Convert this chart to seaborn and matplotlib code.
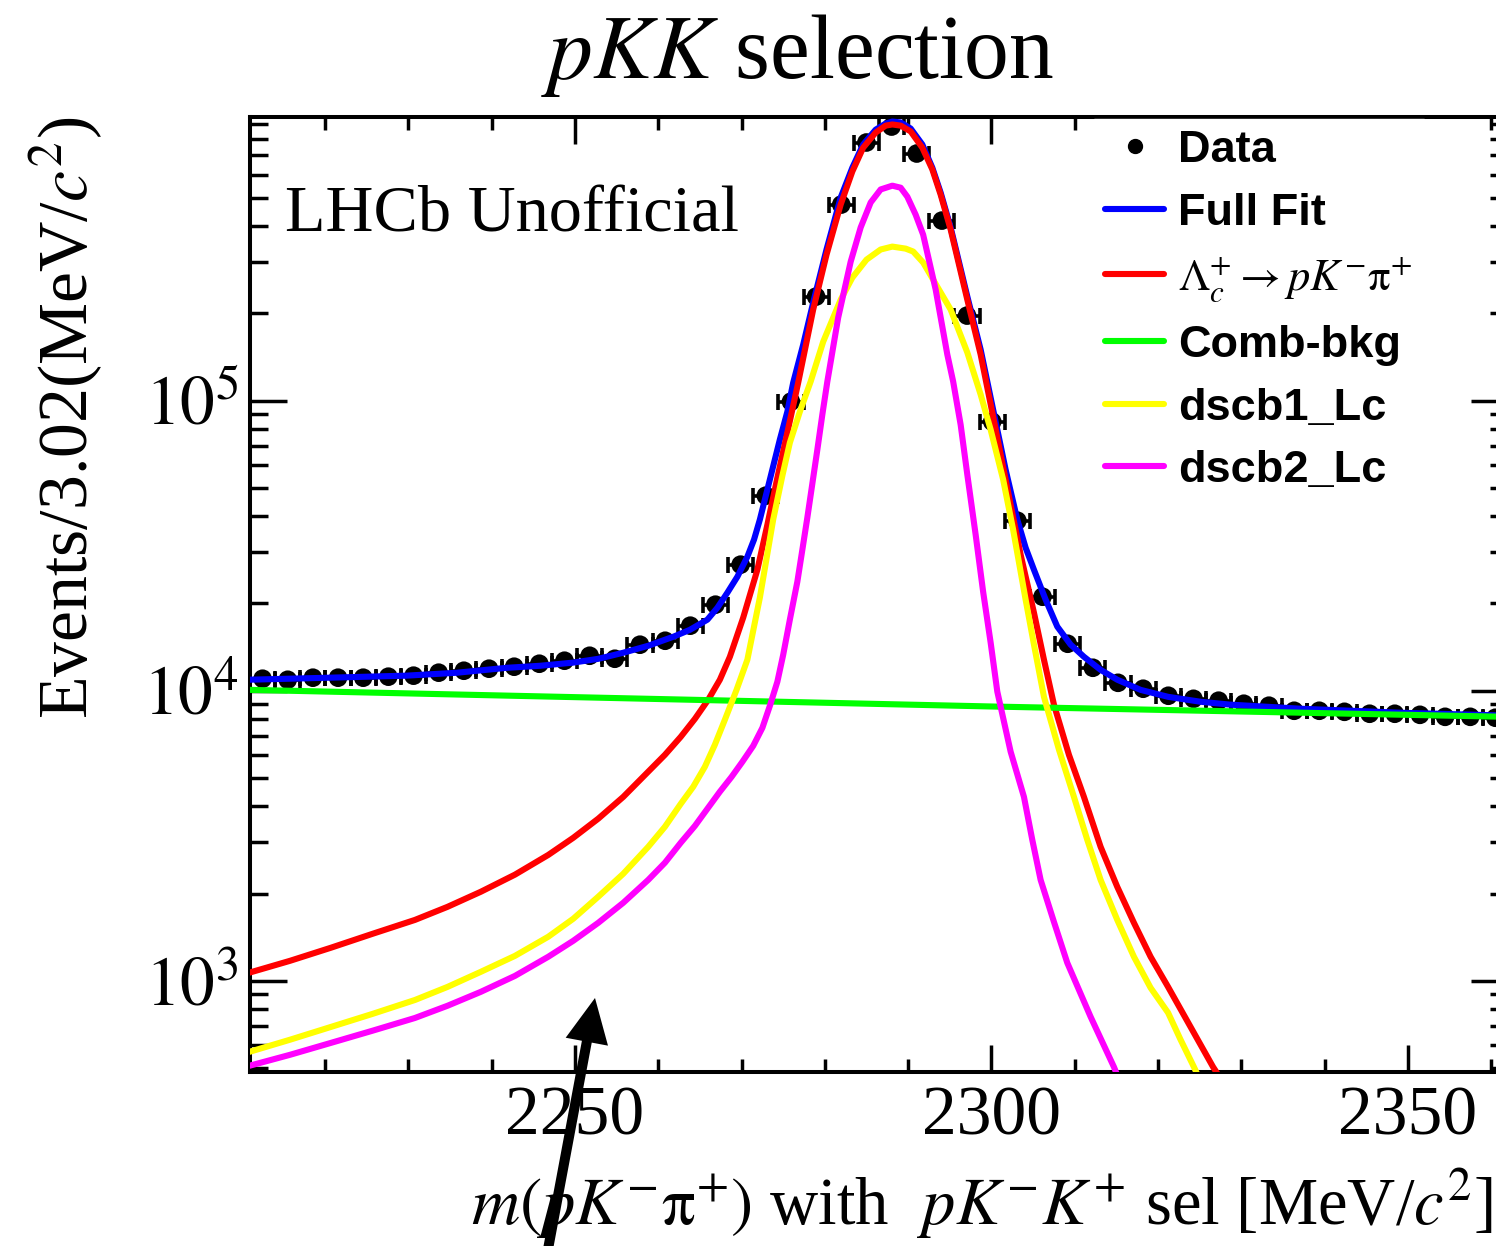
import numpy as np
import pandas as pd
import matplotlib
matplotlib.use("Agg")
import matplotlib.pyplot as plt
from matplotlib.lines import Line2D
from matplotlib.ticker import MultipleLocator, LogLocator, NullFormatter
from matplotlib.font_manager import FontProperties
import seaborn as sns

# ---------------- data ----------------
bin_width = 3.02
bin_start = 2211.0
data_counts = [11000, 10910, 11090, 11090, 11090, 11180, 11270, 11540, 11720, 11910,
               12100, 12390, 12690, 13200, 12890, 14410, 14870, 16760, 19800, 27200,
               47030, 99200, 228400, 474100, 775900, 880600, 710900, 417500, 196400, 84650,
               38560, 21090, 14520, 12000, 10650, 10160, 9610, 9380, 9240, 9020,
               8880, 8530, 8530, 8460, 8330, 8330, 8260, 8130, 8130, 8070]

# fit curves: mass [MeV] and log10(events per bin)
full_m = [2210.9, 2220.6, 2229.8, 2235.8, 2241.8, 2245.8, 2249.8, 2252.8, 2255.8, 2258.8,
          2261.8, 2263.8, 2265.9, 2267.1, 2268.3, 2269.5, 2270.7, 2271.5, 2272.2, 2272.8,
          2273.4, 2274.0, 2274.6, 2275.5, 2276.2, 2277.4, 2278.6, 2280.2, 2281.9, 2283.3,
          2284.6, 2286.1, 2287.3, 2288.1, 2289.1, 2290.3, 2291.7, 2292.9, 2293.9, 2295.1,
          2297.1, 2298.7, 2300.2, 2301.7, 2303.1, 2304.1, 2305.1, 2306.5, 2307.9, 2309.5,
          2311.1, 2313.1, 2315.1, 2317.9, 2321.2, 2325.1, 2328.7, 2337.1, 2349.2, 2362.1]
full_log10 = [4.038, 4.045, 4.052, 4.062, 4.079, 4.086, 4.097, 4.110, 4.131, 4.155,
              4.186, 4.210, 4.245, 4.286, 4.338, 4.393, 4.462, 4.521, 4.590, 4.659,
              4.728, 4.797, 4.866, 4.962, 5.062, 5.193, 5.338, 5.521, 5.700, 5.803,
              5.883, 5.934, 5.955, 5.962, 5.959, 5.938, 5.883, 5.803, 5.717, 5.597,
              5.359, 5.176, 4.969, 4.762, 4.590, 4.493, 4.417, 4.314, 4.221, 4.159,
              4.117, 4.072, 4.038, 4.003, 3.979, 3.962, 3.952, 3.938, 3.924, 3.914]

sig_m = [2210.9, 2215.8, 2220.7, 2225.7, 2230.8, 2234.7, 2238.7, 2242.8, 2246.8, 2249.8,
         2252.8, 2255.8, 2258.8, 2260.8, 2262.7, 2264.4, 2266.0, 2267.4, 2268.6, 2270.2,
         2271.9, 2273.1, 2274.3, 2275.5, 2276.8, 2278.6, 2280.2, 2281.9, 2283.3, 2284.6,
         2286.1, 2287.3, 2288.1, 2289.1, 2290.3, 2291.7, 2292.9, 2293.9, 2295.1, 2297.1,
         2298.7, 2300.2, 2302.3, 2303.5, 2305.1, 2306.3, 2307.5, 2309.3, 2311.1, 2313.1,
         2315.1, 2317.1, 2319.1, 2321.2, 2323.9, 2326.6, 2327.8]
sig_log10 = [3.028, 3.069, 3.114, 3.162, 3.210, 3.255, 3.307, 3.366, 3.434, 3.493,
             3.559, 3.634, 3.721, 3.779, 3.841, 3.903, 3.969, 4.038, 4.117, 4.252,
             4.417, 4.572, 4.734, 4.890, 5.062, 5.314, 5.503, 5.676, 5.790, 5.872,
             5.924, 5.948, 5.952, 5.948, 5.928, 5.872, 5.797, 5.710, 5.590, 5.348,
             5.159, 4.945, 4.641, 4.469, 4.269, 4.107, 3.952, 3.779, 3.634, 3.462,
             3.324, 3.200, 3.083, 2.979, 2.841, 2.703, 2.650]

bkg_m = [2211.0, 2301.1, 2362.0]
bkg_log10 = [4.003, 3.945, 3.910]

dscb1_m = [2210.9, 2215.8, 2220.7, 2225.7, 2230.8, 2234.7, 2238.7, 2242.8, 2246.8, 2249.8,
           2252.8, 2255.8, 2258.8, 2260.8, 2262.7, 2264.2, 2265.6, 2266.8, 2268.0, 2269.4,
           2270.7, 2272.2, 2273.8, 2274.9, 2275.8, 2277.0, 2278.3, 2279.8, 2281.9, 2283.3,
           2285.0, 2286.7, 2288.1, 2289.7, 2290.6, 2291.8, 2293.0, 2295.1, 2297.1, 2298.7,
           2299.9, 2301.4, 2302.6, 2304.1, 2305.1, 2306.3, 2308.1, 2309.9, 2311.5, 2313.1,
           2315.1, 2317.1, 2319.1, 2321.2, 2322.7, 2324.3, 2325.0]
dscb1_log10 = [2.755, 2.797, 2.841, 2.886, 2.934, 2.979, 3.031, 3.086, 3.152, 3.214,
               3.290, 3.369, 3.462, 3.531, 3.610, 3.669, 3.738, 3.814, 3.900, 4.003,
               4.107, 4.321, 4.590, 4.741, 4.855, 4.962, 5.066, 5.203, 5.348, 5.424,
               5.486, 5.521, 5.531, 5.524, 5.514, 5.476, 5.417, 5.314, 5.166, 5.021,
               4.900, 4.728, 4.555, 4.314, 4.159, 3.979, 3.797, 3.634, 3.486, 3.348,
               3.210, 3.083, 2.976, 2.890, 2.797, 2.703, 2.660]

dscb2_m = [2210.9, 2215.8, 2220.7, 2225.7, 2230.8, 2234.7, 2238.7, 2242.8, 2246.8, 2249.8,
           2252.8, 2255.8, 2258.8, 2260.8, 2262.7, 2264.4, 2266.0, 2267.4, 2268.8, 2270.1,
           2271.4, 2272.5, 2273.4, 2274.3, 2275.0, 2275.8, 2276.7, 2277.3, 2277.9, 2278.5,
           2279.1, 2279.7, 2280.3, 2281.6, 2283.1, 2284.3, 2285.5, 2286.7, 2288.1, 2289.1,
           2289.9, 2290.9, 2291.8, 2293.3, 2294.7, 2295.4, 2296.3, 2297.1, 2298.1, 2299.0,
           2299.9, 2300.7, 2302.3, 2303.9, 2304.9, 2305.9, 2307.5, 2309.1, 2311.9, 2314.7,
           2315.3]
dscb2_log10 = [2.707, 2.745, 2.786, 2.828, 2.872, 2.914, 2.962, 3.017, 3.083, 3.138,
               3.200, 3.269, 3.348, 3.407, 3.476, 3.534, 3.597, 3.652, 3.703, 3.755,
               3.810, 3.872, 3.948, 4.031, 4.124, 4.245, 4.376, 4.486, 4.597, 4.714,
               4.831, 4.952, 5.066, 5.286, 5.479, 5.597, 5.683, 5.728, 5.741, 5.734,
               5.703, 5.641, 5.572, 5.383, 5.159, 5.066, 4.917, 4.745, 4.538, 4.341,
               4.166, 3.997, 3.790, 3.634, 3.486, 3.348, 3.203, 3.062, 2.876, 2.703,
               2.660]

x_major = [2250, 2300, 2350]
y_major = [1e3, 1e4, 1e5]
y_major_labels = [r"$10^{3}$", r"$10^{4}$", r"$10^{5}$"]
legend_labels = ["Data", "Full Fit", r"$\Lambda_{c}^{+}\rightarrow pK^{-}\mathrm{\pi}^{+}$",
                 "Comb-bkg", "dscb1_Lc", "dscb2_Lc"]

# ---------------- style ----------------
sns.set_style("ticks")
plt.rcParams["font.family"] = ["Liberation Serif", "DejaVu Serif"]
plt.rcParams["mathtext.fontset"] = "stix"
plt.rcParams["axes.linewidth"] = 2.9
for key in ["text.color", "axes.labelcolor", "xtick.color", "ytick.color", "axes.edgecolor"]:
    plt.rcParams[key] = "black"

W, H = 1496, 1246
fig = plt.figure(figsize=(W / 100, H / 100), dpi=100)
ax = fig.add_axes([250 / W, 174 / H, 1258 / W, 955 / H])
ax.set_yscale("log")

mass = bin_start + bin_width * (np.arange(len(data_counts)) + 0.5)
df = pd.DataFrame({"mass": mass, "counts": data_counts})

ax.errorbar(df["mass"], df["counts"], xerr=bin_width / 2, fmt="none", ecolor="black",
            elinewidth=2.6, capsize=5.5, capthick=2.6, zorder=3)
sns.scatterplot(data=df, x="mass", y="counts", color="black", s=180, edgecolor="none",
                ax=ax, zorder=4, legend=False)

curves = [(full_m, full_log10, "#0000ff"), (sig_m, sig_log10, "#ff0000"),
          (bkg_m, bkg_log10, "#00ff00"), (dscb1_m, dscb1_log10, "#ffff00"),
          (dscb2_m, dscb2_log10, "#ff00ff")]
for z, (cm, clog, col) in enumerate(curves):
    sns.lineplot(x=cm, y=np.power(10.0, clog), color=col, lw=4.4, ax=ax, sort=False,
                 estimator=None, zorder=5 + z, legend=False)

ax.set_xlim(2211, 2362)
ax.set_ylim(485, 9.5e5)

ax.set_xticks(x_major)
ax.set_xticklabels([str(v) for v in x_major])
ax.xaxis.set_minor_locator(MultipleLocator(10))
ax.set_yticks(y_major)
ax.set_yticklabels(y_major_labels)
ax.yaxis.set_minor_locator(LogLocator(base=10, subs=np.arange(2, 10)))
ax.yaxis.set_minor_formatter(NullFormatter())

ax.tick_params(which="both", direction="in", top=True, right=True, width=2.5,
               color="black", labelsize=50, labelcolor="black")
ax.tick_params(axis="x", which="major", length=19.5, pad=10)
ax.tick_params(axis="x", which="minor", length=9.5)
ax.tick_params(axis="y", which="major", length=26.6, pad=8)
ax.tick_params(axis="y", which="minor", length=13)
for s in ax.spines.values():
    s.set_color("black")
    s.set_linewidth(2.9)

ax.set_xlabel(r"$m(pK^{-}\mathrm{\pi}^{+})$ with  $pK^{-}K^{+}$ sel [MeV/$c^{2}$]",
              fontsize=48, ha="right", color="black")
ax.xaxis.set_label_coords(0.988, -0.160)
ax.xaxis.label.set_va("baseline")
ax.set_ylabel(r"Events/3.02(MeV/$c^{2}$)", fontsize=50.2, ha="right", color="black")
ax.yaxis.set_label_coords(-0.115, 1.0)

fig.text(797 / W, (H - 78) / H, r"$pKK$ selection", fontsize=64.5, ha="center",
         va="baseline", color="black")
fig.text(285 / W, (H - 232) / H, "LHCb Unofficial", fontsize=47.8, ha="left",
         va="baseline", color="black")

handles = [Line2D([], [], marker="o", color="black", ls="none", markersize=10)] + \
          [Line2D([], [], color=c[2], lw=4.4) for c in curves]
leg = ax.legend(handles, legend_labels, loc="upper left",
                bbox_to_anchor=((1094 - 250) / 1258, (1072 - 119) / 955),
                prop=FontProperties(family="Liberation Sans", weight="bold", size=32.5),
                frameon=True, fancybox=False, edgecolor="white", facecolor="white",
                framealpha=1, handlelength=1.31, handletextpad=0.31, labelspacing=0.475,
                borderpad=0.25, borderaxespad=0)
leg.get_texts()[2].set_fontproperties(FontProperties(family="Liberation Serif", size=32))
for t in leg.get_texts():
    t.set_color("black")
leg.set_zorder(20)

ax.annotate("", xy=(595, H - 998), xytext=(543, -30), xycoords="figure pixels",
            textcoords="figure pixels", annotation_clip=False,
            arrowprops=dict(width=7.2, headwidth=31, headlength=32,
                            facecolor="black", edgecolor="black", lw=0))

fig.savefig("out.png", dpi=100)
